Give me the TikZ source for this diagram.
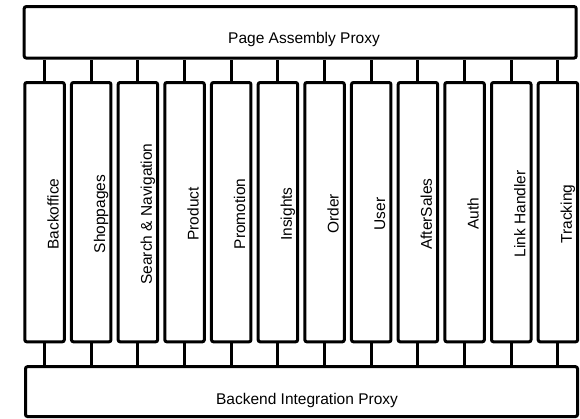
\documentclass[tikz,border=0pt]{standalone}
\usepackage{fontspec}
\setmainfont{Liberation Sans}
\begin{document}
\begin{tikzpicture}[x=1pt,y=-1pt,
  box/.style={draw,line width=3pt,rounded corners=2pt,inner sep=0pt},
  lbl/.style={font=\fontsize{15.5}{18}\selectfont,inner sep=0pt},
  conn/.style={line width=3pt}]
\useasboundingbox (0,0) rectangle (580,418);
\node[box,minimum width=552pt,minimum height=51.4pt] (top) at (300.2,32.3) {};
\node[box,minimum width=552pt,minimum height=49.8pt] (bot) at (301.5,391.6) {};
\node[lbl,anchor=base] (toptext) at (304,43.3) {Page Assembly Proxy};
\node[lbl,anchor=base] (bottext) at (307,404) {Backend Integration Proxy};
\foreach \t [count=\i] in {Backoffice,Shoppages,Search \& Navigation,Product,Promotion,Insights,Order,User,AfterSales,Auth,Link Handler,Tracking}{
  \pgfmathsetmacro\cx{44.55+(\i-1)*46.67}
  \node[box,minimum width=39.5pt,minimum height=259.3pt] (c\i) at (\cx,212.15) {};
  \node[lbl,rotate=90,anchor=base] (t\i) at (\cx+14,214) {\t};
  \draw[conn] (c\i.north) -- (c\i.north |- top.south);
  \draw[conn] (c\i.south) -- (c\i.south |- bot.north);
}
\end{tikzpicture}
\end{document}
